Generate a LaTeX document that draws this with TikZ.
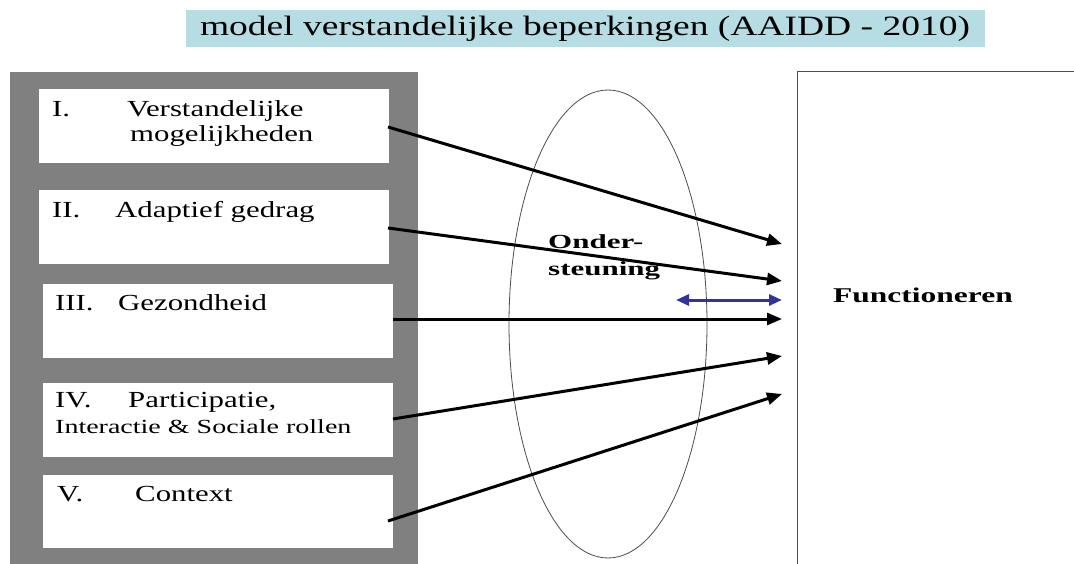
\documentclass[tikz,border=0pt]{standalone}
\usepackage{fontspec}
\setmainfont{Liberation Serif}
\newfontfamily\wideA[FakeStretch=1.34]{Liberation Serif}
\newfontfamily\wideI[FakeStretch=1.40]{Liberation Serif}
\newfontfamily\wideF[FakeStretch=1.50,UprightFont={* Bold}]{Liberation Serif}
\newfontfamily\wideO[FakeStretch=1.55,UprightFont={* Bold}]{Liberation Serif}
\usetikzlibrary{arrows.meta,shapes.geometric}
\definecolor{titlebg}{RGB}{183,221,228}
\definecolor{panelgray}{RGB}{128,128,128}
\definecolor{arrowblue}{RGB}{51,51,153}
\begin{document}
\begin{tikzpicture}[x=1pt,y=-1pt,
  itembox/.style={fill=white,draw=none,anchor=north west,inner sep=0pt},
  itemtext/.style={anchor=base west,inner sep=0pt,font=\wideA\fontsize{23}{25}\selectfont},
  conn/.style={line width=3pt,-{Triangle[length=15pt,width=12pt]}},
  bconn/.style={line width=3pt,draw=arrowblue,{Triangle[length=13pt,width=11pt]}-{Triangle[length=13pt,width=11pt]}}]
\useasboundingbox (0,0) rectangle (1074,564);
\fill[white] (0,0) rectangle (1074,564);
% title
\node[fill=titlebg,minimum width=799pt,minimum height=37pt,anchor=north west,inner sep=0pt] (title) at (186,10) {};
\node[anchor=base,inner sep=0pt,font=\wideA\fontsize{28}{30}\selectfont] (titletext) at (585,36) {model verstandelijke beperkingen (AAIDD - 2010)};
% left panel
\node[fill=panelgray,anchor=north west,minimum width=408pt,minimum height=493pt,inner sep=0pt] (panel) at (10,72) {};
\node[itembox,minimum width=350pt,minimum height=74pt] (b1) at (39,89) {};
\node[itembox,minimum width=350pt,minimum height=74pt] (b2) at (39,190) {};
\node[itembox,minimum width=350pt,minimum height=74pt] (b3) at (43,284) {};
\node[itembox,minimum width=350pt,minimum height=74pt] (b4) at (43,383) {};
\node[itembox,minimum width=350pt,minimum height=73pt] (b5) at (43,475) {};
\node[itemtext] (t1a) at (52,117) {I.};
\node[itemtext] (t1b) at (127,117) {Verstandelijke};
\node[itemtext] (t1c) at (130,142) {mogelijkheden};
\node[itemtext] (t2a) at (52,218) {II.};
\node[itemtext] (t2b) at (115,218) {Adaptief gedrag};
\node[itemtext] (t3a) at (55,310) {III.};
\node[itemtext] (t3b) at (118,310) {Gezondheid};
\node[itemtext] (t4a) at (55,407) {IV.};
\node[itemtext] (t4b) at (128,407) {Participatie,};
\node[itemtext,font=\wideI\fontsize{20}{22}\selectfont] (t4c) at (55,433) {Interactie \& Sociale rollen};
\node[itemtext] (t5a) at (57,501) {V.};
\node[itemtext] (t5b) at (135,501) {Context};
% ellipse
\node[draw=black!70,line width=0.8pt,ellipse,minimum width=198pt,minimum height=468pt,inner sep=0pt] (ell) at (608,324) {};
\node[anchor=base west,inner sep=0pt,font=\wideO\fontsize{20}{22}\selectfont] (onder1) at (548,249) {Onder-};
\node[anchor=base west,inner sep=0pt,font=\wideO\fontsize{20}{22}\selectfont] (onder2) at (548,276) {steuning};
% right box
\draw[draw=black!70,line width=1pt] (1080,72) -- (797,72) -- (797,570);
\node[font=\wideF\fontsize{21}{23}\selectfont,anchor=base west,inner sep=0pt] (func) at (833,302) {Functioneren};
% connector endpoints
\coordinate (s1) at (388,127); \coordinate (e1) at (782,244);
\coordinate (s2) at (388,228); \coordinate (e2) at (782,281);
\coordinate (s3) at (393,319); \coordinate (e3) at (782,319);
\coordinate (s4) at (393,419); \coordinate (e4) at (782,356);
\coordinate (s5) at (388,521); \coordinate (e5) at (782,394);
\coordinate (bl) at (676,300); \coordinate (br) at (782,300);
\draw[conn] (s1) -- (e1);
\draw[conn] (s2) -- (e2);
\draw[conn] (s3) -- (e3);
\draw[conn] (s4) -- (e4);
\draw[conn] (s5) -- (e5);
\draw[bconn] (bl) -- (br);
\end{tikzpicture}
\end{document}
